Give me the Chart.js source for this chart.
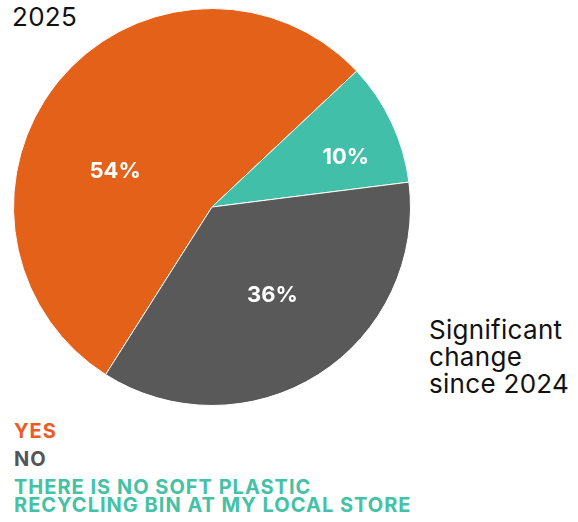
<!DOCTYPE html>
<html>
<head>
<meta charset="utf-8">
<script src="https://cdn.jsdelivr.net/npm/chart.js@4.4.1/dist/chart.umd.min.js"></script>
<style>
  body { margin:0; background:#fff; width:578px; height:522px; position:relative; overflow:hidden; font-family:Inter, "Noto Sans", sans-serif; }
  #wrap { position:absolute; left:13px; top:8px; width:398px; height:398px; }
  .year { position:absolute; left:12px; top:1px; font-size:26px; color:#111; letter-spacing:0.3px; }
  .note { position:absolute; left:429px; top:316px; font-size:26px; line-height:27px; color:#111; letter-spacing:0.3px; }
  #legend { position:absolute; left:14px; top:422px; font-weight:700; font-size:20px; letter-spacing:1px; }
  #legend div { line-height:18px; margin-bottom:10px; }
</style>
</head>
<body>
<div class="year">2025</div>
<div id="wrap"><canvas id="chart" width="398" height="398"></canvas></div>
<div class="note">Significant<br>change<br>since 2024</div>
<div id="legend"></div>
<script>
// 데이터
const categories = ['YES', 'NO', 'THERE IS NO SOFT PLASTIC\nRECYCLING BIN AT MY LOCAL STORE'];
const values = [54, 36, 10];
const sliceColors = ['#E4611A', '#595959', '#41BFA8'];
const legendColors = ['#EC5B25', '#555555', '#45C1A6'];
const pieOrder = [0, 2, 1]; // 시계방향: yes, none, no

// 라벨 위치 (각도 비율, 반지름 비율)
const labelPos = { 0: [0.40, 0.52], 1: [0.485, 0.54], 2: [0.63, 0.72] };

const legend = document.getElementById('legend');
categories.forEach((c, i) => {
  const d = document.createElement('div');
  d.style.color = legendColors[i];
  d.innerHTML = c.replace('\n', '<br>');
  legend.appendChild(d);
});

const pctLabels = {
  id: 'pctLabels',
  afterDatasetsDraw(chart) {
    const ctx = chart.ctx;
    const meta = chart.getDatasetMeta(0);
    ctx.save();
    ctx.fillStyle = '#fff';
    ctx.font = '700 22px Inter, "Noto Sans", sans-serif';
    ctx.textAlign = 'center';
    ctx.textBaseline = 'middle';
    meta.data.forEach((arc, k) => {
      const idx = pieOrder[k];
      const [af, rf] = labelPos[idx];
      const a = arc.startAngle + (arc.endAngle - arc.startAngle) * af;
      const r = arc.outerRadius * rf;
      ctx.fillText(values[idx] + '%', arc.x + Math.cos(a) * r, arc.y + Math.sin(a) * r);
    });
    ctx.restore();
  }
};

new Chart(document.getElementById('chart'), {
  type: 'pie',
  data: {
    labels: pieOrder.map(i => categories[i]),
    datasets: [{
      data: pieOrder.map(i => values[i]),
      backgroundColor: pieOrder.map(i => sliceColors[i]),
      borderColor: '#fff',
      borderWidth: 1
    }]
  },
  options: {
    responsive: false,
    animation: false,
    rotation: 212.4,
    plugins: { legend: { display: false }, tooltip: { enabled: false } }
  },
  plugins: [pctLabels]
});
</script>
</body>
</html>
